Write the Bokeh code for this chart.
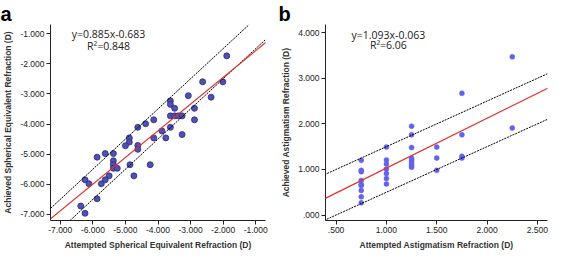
from bokeh.plotting import figure
from bokeh.layouts import row
from bokeh.models import Range1d, FixedTicker, Slope, Label, Title
from bokeh.embed import file_html
from bokeh.resources import INLINE

# ---------------- data: panel a ----------------
attempted_se = [-1.89, -2.63, -2.01, -2.37, -3.07, -3.62, -3.62, -3.49, -2.88, -3.62,
                -3.49, -3.38, -3.26, -2.88, -4.13, -4.38, -4.62, -3.62, -3.88, -3.26,
                -4.88, -4.13, -3.76, -4.88, -4.62, -5.00, -4.62, -5.62, -5.37, -5.87,
                -5.37, -5.37, -4.86, -4.24, -5.37, -5.25, -5.50, -4.74, -6.24, -5.62,
                -6.12, -5.74, -5.87, -6.37, -6.24]
achieved_se = [-1.74, -2.60, -2.60, -3.11, -3.06, -3.23, -3.35, -3.48, -3.48, -3.73,
               -3.73, -3.73, -3.73, -3.86, -3.86, -3.99, -4.11, -4.11, -4.23, -4.35,
               -4.46, -4.46, -4.46, -4.60, -4.71, -4.72, -4.84, -4.98, -4.98, -5.10,
               -5.22, -5.35, -5.35, -5.35, -5.47, -5.47, -5.72, -5.72, -5.85, -5.85,
               -5.98, -5.98, -6.48, -6.72, -6.96]
fit_a = (0.885, -0.683)
ticks_a = [-7.0, -6.0, -5.0, -4.0, -3.0, -2.0, -1.0]
tick_labels_a = ["-7.000", "-6.000", "-5.000", "-4.000", "-3.000", "-2.000", "-1.000"]
eq_a = ["y=0.885x-0.683", "R\u00b2=0.848"]

# ---------------- data: panel b ----------------
attempted_cyl = [0.75] * 9 + [1.0] * 7 + [1.25] * 9 + [1.5] * 3 + [1.75] * 4 + [2.25] * 2
achieved_cyl = [1.20, 0.98, 0.95, 0.76, 0.67, 0.65, 0.54, 0.40, 0.27,
                1.49, 1.21, 1.12, 1.01, 0.91, 0.80, 0.68,
                1.95, 1.76, 1.48, 1.25, 1.21, 1.17, 1.12, 1.08, 1.05,
                1.49, 1.25, 0.98,
                2.67, 1.76, 1.29, 1.25,
                3.47, 1.91]
fit_b = (1.093, -0.063)
ticks_bx = [0.5, 1.0, 1.5, 2.0, 2.5]
tick_labels_bx = [".500", "1.000", "1.500", "2.000", "2.500"]
ticks_by = [0.0, 1.0, 2.0, 3.0, 4.0]
tick_labels_by = [".000", "1.000", "2.000", "3.000", "4.000"]
eq_b = ["y=1.093x-0.063", "R\u00b2=6.06"]
band = 0.5  # reference lines y = x +/- 0.5

FONT = "Liberation Sans"


def style(p, xt, xl, yt, yl, xlabel, ylabel):
    p.xgrid.visible = False
    p.ygrid.visible = False
    p.outline_line_color = None
    for ax, t, l in ((p.xaxis[0], xt, xl), (p.yaxis[0], yt, yl)):
        ax.ticker = FixedTicker(ticks=t)
        ax.major_label_overrides = {v: s for v, s in zip(t, l)}
        ax.minor_tick_line_color = None
        ax.major_tick_in = 0
        ax.major_tick_out = 4
        ax.axis_line_color = "#222222"
        ax.major_tick_line_color = "#222222"
        ax.major_label_text_font = FONT
        ax.major_label_text_font_size = "8.5px"
        ax.major_label_text_color = "#222222"
        ax.major_label_standoff = 2
        ax.axis_label_text_font = FONT
        ax.axis_label_text_font_size = "8.5px"
        ax.axis_label_text_font_style = "bold"
        ax.axis_label_text_color = "#333333"
        ax.axis_label_standoff = 4
    p.xaxis[0].axis_label = xlabel
    p.yaxis[0].axis_label = ylabel


def panel_title(p, letter, offset):
    p.add_layout(Title(text=letter, align="left", offset=offset, standoff=0,
                       text_font=FONT, text_font_style="bold", text_font_size="20px",
                       text_color="black", text_line_height=0.9), "above")


# ---------------- panel a ----------------
pa = figure(width=272, height=253, output_backend="svg", toolbar_location=None,
            x_range=Range1d(-7.3, -0.7), y_range=Range1d(-7.2, -0.7),
            min_border_left=42, min_border_right=7, min_border_top=0, min_border_bottom=30)
style(pa, ticks_a, tick_labels_a, ticks_a, tick_labels_a,
      "Attempted Spherical Equivalent Refraction (D)",
      "Achieved Spherical Equivalent Refraction (D)")
panel_title(pa, "a", -50)
pa.add_layout(Slope(gradient=1, y_intercept=band, line_color="black", line_dash="2 1", line_width=1))
pa.add_layout(Slope(gradient=1, y_intercept=-band, line_color="black", line_dash="2 1", line_width=1))
pa.add_layout(Slope(gradient=fit_a[0], y_intercept=fit_a[1], line_color="#e0302c", line_width=1.2))
pa.scatter(attempted_se, achieved_se, size=6, fill_color="#5050b0", line_color="#2a2a80", line_width=0.8)
pa.add_layout(Label(x=-5.52, y=-1.03, text=eq_a[0], text_align="center", text_baseline="middle",
                    text_font="Open Sans", text_font_size="10.5px", text_color="#222222"))
pa.add_layout(Label(x=-5.52, y=-1.40, text=eq_a[1], text_align="center", text_baseline="middle",
                    text_font="Open Sans", text_font_size="10.5px", text_color="#222222"))

# ---------------- panel b ----------------
pb = figure(width=279, height=253, output_backend="svg", toolbar_location=None,
            x_range=Range1d(0.395, 2.6), y_range=Range1d(-0.12, 4.18),
            min_border_left=53, min_border_right=4, min_border_top=0, min_border_bottom=33)
style(pb, ticks_bx, tick_labels_bx, ticks_by, tick_labels_by,
      "Attempted Astigmatism Refraction (D)",
      "Achieved Astigmatism Refraction (D)")
panel_title(pb, "b", -47)
pb.add_layout(Slope(gradient=1, y_intercept=band, line_color="black", line_dash="2 1", line_width=1))
pb.add_layout(Slope(gradient=1, y_intercept=-band, line_color="black", line_dash="2 1", line_width=1))
pb.add_layout(Slope(gradient=fit_b[0], y_intercept=fit_b[1], line_color="#e0302c", line_width=1.2))
pb.scatter(attempted_cyl, achieved_cyl, size=5, fill_color="#6262ea", line_color="#6262ea", line_width=0.5)
pb.add_layout(Label(x=1.02, y=3.96, text=eq_b[0], text_align="center", text_baseline="middle",
                    text_font="Open Sans", text_font_size="10.5px", text_color="#222222"))
pb.add_layout(Label(x=1.02, y=3.72, text=eq_b[1], text_align="center", text_baseline="middle",
                    text_font="Open Sans", text_font_size="10.5px", text_color="#222222"))

layout = row(pa, pb)
open("out.html", "w").write(file_html(layout, INLINE))
